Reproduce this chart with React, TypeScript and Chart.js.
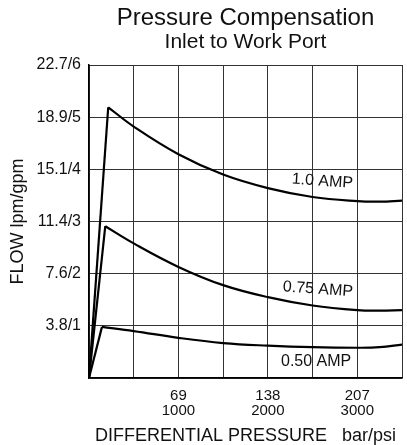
import React, { useEffect, useRef } from "react";
import { Chart, registerables } from "chart.js";

Chart.register(...registerables);

// Differential pressure (psi) along the falling part of each curve
const pressurePsi = [500, 1000, 1500, 2000, 2500, 3000, 3250, 3500];

// Peak points (psi, gpm) reached right after the origin
const peakPsi10 = 215;
const peakGpm10 = 5.19;
const peakPsi075 = 182;
const peakGpm075 = 2.91;
const peakPsi050 = 145;
const peakGpm050 = 0.98;

// Flow (gpm) at each pressurePsi value
const flow10 = [4.82, 4.29, 3.9, 3.64, 3.47, 3.39, 3.38, 3.4];
const flow075 = [2.58, 2.13, 1.78, 1.55, 1.39, 1.3, 1.29, 1.3];
const flow050 = [0.9, 0.77, 0.67, 0.62, 0.59, 0.58, 0.59, 0.64];

const curveNames = ["1.0 AMP", "0.75 AMP", "0.50 AMP"];
// label anchor (psi, gpm) and rotation (deg)
const labelPsi = [2610, 2560, 2540];
const labelGpm = [3.77, 1.7, 0.31];
const labelRot = [4, 4, 0];

const yTickLabels = ["", "3.8/1", "7.6/2", "11.4/3", "15.1/4", "18.9/5", "22.7/6"];
const xTickValues = [1000, 2000, 3000];
const xTickBar = ["69", "138", "207"];
const xTickPsi = ["1000", "2000", "3000"];

const FONT = "'Liberation Sans', Arial, Helvetica, sans-serif";

function rise(psi: number, gpm: number) {
  return [
    { x: 0, y: 0 },
    { x: psi, y: gpm },
  ];
}
function fall(psi: number, gpm: number, flows: number[]) {
  return [{ x: psi, y: gpm }, ...pressurePsi.map((p, i) => ({ x: p, y: flows[i] }))];
}

const curveLabels = {
  id: "curveLabels",
  afterDatasetsDraw(chart: any) {
    const { ctx, scales } = chart;
    ctx.save();
    ctx.fillStyle = "#111";
    ctx.font = `16px ${FONT}`;
    ctx.textAlign = "center";
    ctx.textBaseline = "middle";
    curveNames.forEach((name, i) => {
      const x = scales.x.getPixelForValue(labelPsi[i]);
      const y = scales.y.getPixelForValue(labelGpm[i]);
      ctx.save();
      ctx.translate(x, y);
      ctx.rotate((labelRot[i] * Math.PI) / 180);
      ctx.fillText(name, 0, 0);
      ctx.restore();
    });
    ctx.restore();
  },
};

export default function App() {
  const ref = useRef<HTMLCanvasElement>(null);
  useEffect(() => {
    if (!ref.current) return;
    const lineStyle = {
      borderColor: "#000",
      borderWidth: 2.2,
      pointRadius: 0,
      fill: false,
    };
    const chart = new Chart(ref.current, {
      type: "line",
      data: {
        datasets: [
          { ...lineStyle, data: rise(peakPsi10, peakGpm10), tension: 0 },
          { ...lineStyle, data: fall(peakPsi10, peakGpm10, flow10), tension: 0.4 },
          { ...lineStyle, data: rise(peakPsi075, peakGpm075), tension: 0 },
          { ...lineStyle, data: fall(peakPsi075, peakGpm075, flow075), tension: 0.4 },
          { ...lineStyle, data: rise(peakPsi050, peakGpm050), tension: 0 },
          { ...lineStyle, data: fall(peakPsi050, peakGpm050, flow050), tension: 0.4 },
        ] as any,
      },
      options: {
        animation: false,
        responsive: false,
        layout: { padding: { left: 0, right: 2, top: 0, bottom: 0 } },
        plugins: {
          legend: { display: false },
          tooltip: { enabled: false },
          title: {
            display: true,
            text: "Pressure Compensation",
            fullSize: false,
            color: "#111",
            font: { family: FONT, size: 24, weight: "normal", lineHeight: 1.0 },
            padding: { top: 6, bottom: 2 },
          },
          subtitle: {
            display: true,
            text: "Inlet to Work Port",
            fullSize: false,
            color: "#111",
            font: { family: FONT, size: 21, weight: "normal", lineHeight: 1.0 },
            padding: { top: 0, bottom: 12 },
          },
        },
        scales: {
          x: {
            type: "linear",
            min: 0,
            max: 3500,
            afterFit: (s: any) => {
              s.height = 67;
            },
            border: { display: true, color: "#000", width: 1.5 },
            grid: { color: "#333", lineWidth: 1, drawTicks: false },
            ticks: {
              stepSize: 500,
              autoSkip: false,
              maxRotation: 0,
              padding: 10,
              color: "#111",
              font: { family: FONT, size: 15, lineHeight: 1.0 },
              callback: (v: any) => {
                const i = xTickValues.indexOf(Number(v));
                return i >= 0 ? [xTickBar[i], xTickPsi[i]] : "";
              },
            },
            title: {
              display: true,
              text: "DIFFERENTIAL PRESSURE   bar/psi",
              color: "#111",
              font: { family: FONT, size: 18, lineHeight: 1.0 },
              padding: { top: 2, bottom: 0 },
            },
          },
          y: {
            type: "linear",
            min: 0,
            max: 6,
            afterFit: (s: any) => {
              s.width = 89;
            },
            border: { display: true, color: "#000", width: 1.5 },
            grid: { color: "#333", lineWidth: 1, drawTicks: false },
            ticks: {
              stepSize: 1,
              padding: 8,
              color: "#111",
              font: { family: FONT, size: 16 },
              callback: (v: any) => yTickLabels[Number(v)] ?? "",
            },
            title: {
              display: true,
              text: "FLOW lpm/gpm",
              color: "#111",
              font: { family: FONT, size: 18, lineHeight: 1.0 },
              padding: { top: 9, bottom: 4 },
            },
          },
        },
      },
      plugins: [curveLabels],
    });
    return () => chart.destroy();
  }, []);
  return (
    <div style={{ position: "fixed", left: 0, top: 0, width: 407, height: 445, overflow: "hidden", background: "#fff" }}>
      <canvas ref={ref} width={412} height={445} style={{ width: 412, height: 445, display: "block" }} />
    </div>
  );
}
